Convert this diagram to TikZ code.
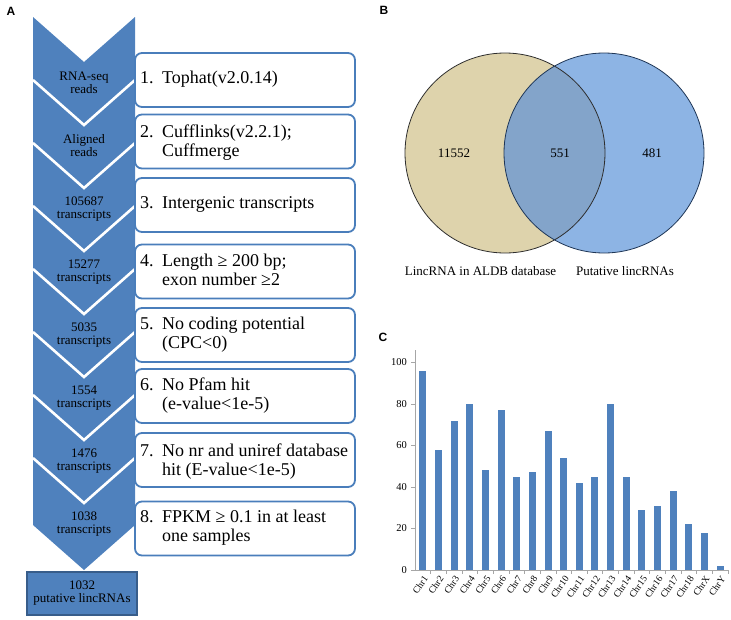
\documentclass[tikz,border=0pt]{standalone}
\usepackage{fontspec}
\setmainfont{Liberation Serif}
\newfontfamily\panelfont{Liberation Sans}
\usepackage{array}
\definecolor{chev}{HTML}{4F81BD}
\definecolor{chevdark}{HTML}{385D8A}
\definecolor{boxblue}{HTML}{4A7EBB}
\definecolor{venntan}{HTML}{DED3AC}
\definecolor{vennblue}{HTML}{8DB4E4}
\definecolor{vennmix}{HTML}{83A4CA}
\definecolor{vennleft}{HTML}{2E2E2E}
\definecolor{vennright}{HTML}{1F3656}
\definecolor{axisgray}{HTML}{A6A6A6}
\begin{document}
\begin{tikzpicture}[x=1pt,y=-1pt,
  chevtext/.style={inner sep=0pt, align=center, text=black, font=\fontsize{13}{13}\selectfont},
  stepbox/.style={draw=boxblue, line width=1.8pt, rounded corners=7pt, fill=white, minimum width=220pt, minimum height=54pt, inner sep=0pt},
  steptext/.style={inner sep=0pt, anchor=west, font=\fontsize{18}{19.5}\selectfont},
  panel/.style={inner sep=0pt, font=\panelfont\bfseries\fontsize{12}{12}\selectfont},
  ylab/.style={inner sep=0pt, anchor=east, font=\fontsize{10.5}{11}\selectfont},
  xlab/.style={inner sep=0pt, anchor=east, rotate=55, font=\fontsize{9.5}{10}\selectfont},
  venntext/.style={inner sep=0pt, font=\fontsize{13}{13}\selectfont}]
\useasboundingbox (0,0) rectangle (731,619);

% ---------- Panel A ----------
\node[panel] (pA) at (11,11) {A};
\foreach \k in {0,...,7}{
  \pgfmathsetmacro\t{17+63*\k}
  \fill[chev] (33,\t) -- (84,\t+45) -- (135,\t) -- (135,\t+67) -- (84,\t+112) -- (33,\t+67) -- cycle;
  \ifnum\k>0
    \draw[white, line width=2.6pt, line join=miter] (33,\t) -- (84,\t+45) -- (135,\t);
  \fi
}
\foreach \k/\ta/\tb in {0/RNA-seq/reads, 1/Aligned/reads, 2/105687/transcripts, 3/15277/transcripts, 4/5035/transcripts, 5/1554/transcripts, 6/1476/transcripts, 7/1038/transcripts}{
  \pgfmathsetmacro\t{17+63*\k+66}
  \node[chevtext] (c\k) at (84,\t) {\ta\\\tb};
}
\node[draw=chevdark, fill=chev, line width=1.5pt, minimum width=110pt, minimum height=43pt, chevtext] (final) at (82,593.5) {1032\\putative lincRNAs};

\node[stepbox] (b1) at (245,80) {};
\node[stepbox] (b2) at (245,141.5) {};
\node[stepbox] (b3) at (245,205) {};
\node[stepbox] (b4) at (245,271.5) {};
\node[stepbox] (b5) at (245,335) {};
\node[stepbox] (b6) at (245,396) {};
\node[stepbox] (b7) at (245,460) {};
\node[stepbox] (b8) at (245,528.5) {};

\node[steptext] (s1) at (140,80) {\begin{tabular}{@{}p{22pt}@{}l@{}}1. & Tophat(v2.0.14)\end{tabular}};
\node[steptext] (s2) at (140,143) {\begin{tabular}{@{}p{22pt}@{}l@{}}2. & Cufflinks(v2.2.1);\\ & Cuffmerge\end{tabular}};
\node[steptext] (s3) at (140,205) {\begin{tabular}{@{}p{22pt}@{}l@{}}3. & Intergenic transcripts\end{tabular}};
\node[steptext] (s4) at (140,272) {\begin{tabular}{@{}p{22pt}@{}l@{}}4. & Length ≥ 200 bp;\\ & exon number ≥2\end{tabular}};
\node[steptext] (s5) at (140,335) {\begin{tabular}{@{}p{22pt}@{}l@{}}5. & No coding potential\\ & (CPC<0)\end{tabular}};
\node[steptext] (s6) at (140,396) {\begin{tabular}{@{}p{22pt}@{}l@{}}6. & No Pfam hit\\ & (e-value<1e-5)\end{tabular}};
\node[steptext] (s7) at (140,462) {\begin{tabular}{@{}p{22pt}@{}l@{}}7. & No nr and uniref database\\ & hit (E-value<1e-5)\end{tabular}};
\node[steptext] (s8) at (140,528) {\begin{tabular}{@{}p{22pt}@{}l@{}}8. & FPKM ≥ 0.1 in at least\\ & one samples\end{tabular}};

% ---------- Panel B ----------
\node[panel] (pB) at (384,10) {B};
\begin{scope}
  \fill[venntan] (505,153) circle (100pt);
  \fill[vennblue] (604,153) circle (100pt);
  \clip (505,153) circle (100pt);
  \fill[vennmix] (604,153) circle (100pt);
\end{scope}
\draw[vennleft, line width=0.8pt] (505,153) circle (100pt);
\draw[vennright, line width=0.8pt] (604,153) circle (100pt);
\node[venntext] (n1) at (454,153) {11552};
\node[venntext] (n2) at (560,153) {551};
\node[venntext] (n3) at (652,153) {481};
\node[venntext] (l1) at (480.5,271) {LincRNA in ALDB database};
\node[venntext] (l2) at (625,271) {Putative lincRNAs};

% ---------- Panel C ----------
\node[panel] (pC) at (383,337) {C};
\draw[axisgray, line width=0.7pt] (415,350) -- (415,570);
\draw[axisgray, line width=0.7pt] (415,570) -- (728,570);
\foreach \v in {0,20,...,100}{
  \pgfmathsetmacro\yy{570-2.075*\v}
  \draw[axisgray, line width=0.7pt] (411,\yy) -- (415,\yy);
  \node[ylab] (y\v) at (407,\yy) {\v};
}
\foreach \i/\v/\n in {1/96/Chr1, 2/58/Chr2, 3/72/Chr3, 4/80/Chr4, 5/48/Chr5, 6/77/Chr6, 7/45/Chr7, 8/47/Chr8, 9/67/Chr9, 10/54/Chr10, 11/42/Chr11, 12/45/Chr12, 13/80/Chr13, 14/45/Chr14, 15/29/Chr15, 16/31/Chr16, 17/38/Chr17, 18/22/Chr18, 19/18/ChrX, 20/2/ChrY}{
  \pgfmathsetmacro\cx{415+(\i-0.5)*15.65}
  \pgfmathsetmacro\tx{415+\i*15.65}
  \pgfmathsetmacro\yy{570-2.075*\v}
  \fill[chev] (\cx-3.5,570) rectangle (\cx+3.5,\yy);
  \draw[axisgray, line width=0.7pt] (\tx,570) -- (\tx,574);
  \node[xlab] (x\i) at (\cx+3,577) {\n};
}
\end{tikzpicture}
\end{document}
